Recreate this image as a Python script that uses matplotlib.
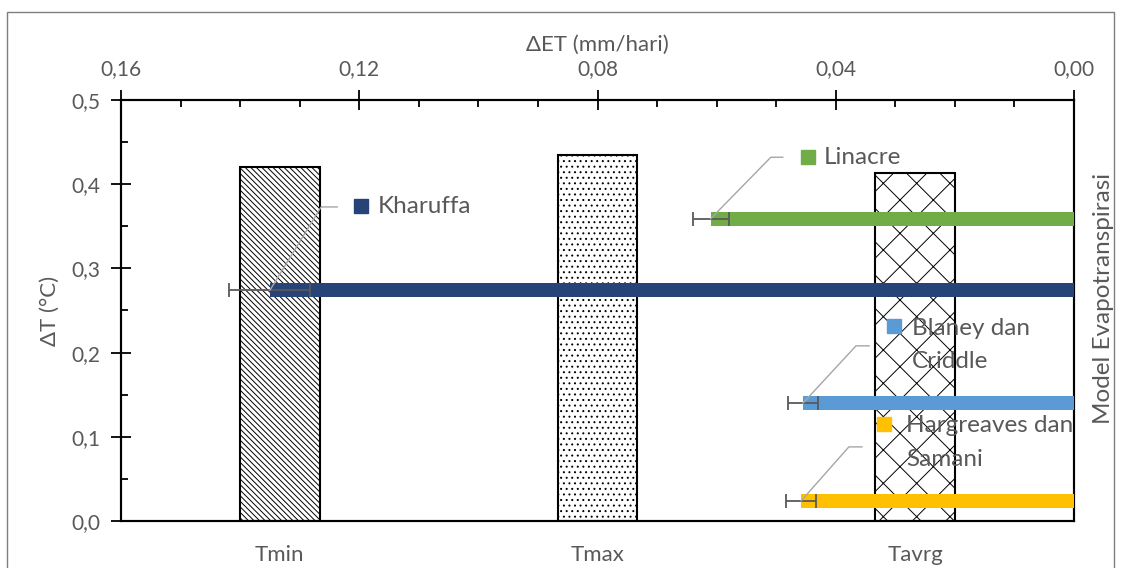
import matplotlib.pyplot as plt
import matplotlib.patches as mpatches
from matplotlib.ticker import MultipleLocator, FuncFormatter

plt.rcParams['font.family'] = ['Lato', 'DejaVu Sans']
plt.rcParams['hatch.linewidth'] = 0.7

# data
categories = ['Tmin', 'Tmax', 'Tavrg']
delta_t = [0.420, 0.435, 0.413]
hatches = ['\\\\\\\\\\\\', '...', 'x']

models = ['Kharuffa', 'Linacre', 'Blaney dan\nCriddle', 'Hargreaves dan\nSamani']
delta_et = [0.135, 0.061, 0.0455, 0.0458]
et_err = [0.0068, 0.003, 0.0025, 0.0025]
model_y = [0.274, 0.359, 0.140, 0.024]
model_colors = ['#264478', '#70AD47', '#5B9BD5', '#FFC000']

# label layout (ΔET, ΔT): leader knee, leader end, marker, text
knee = [(0.1264, 0.373), (0.0509, 0.432), (0.0366, 0.208), (0.0378, 0.088)]
lead_end = [0.1237, 0.0489, 0.0344, 0.0356]
mark_pos = [(0.1197, 0.374), (0.0447, 0.432), (0.0302, 0.231), (0.0319, 0.115)]
text_x = [0.1169, 0.0420, 0.0272, 0.0282]

grey = '#595959'

fig = plt.figure(figsize=(11.21, 5.68), dpi=100)
fig.patches.append(mpatches.Rectangle((7 / 1121, -0.05), 1107 / 1121, 1 - 12 / 568 + 0.05,
                                      transform=fig.transFigure, fill=False,
                                      edgecolor='#7f7f7f', linewidth=1))

ax = fig.add_axes([121 / 1121, 1 - 521 / 568, 953 / 1121, 421 / 568])
for i, (v, h) in enumerate(zip(delta_t, hatches)):
    ax.bar(i, v, width=0.25, color='white', edgecolor='black', linewidth=1.5, hatch=h)
ax.set_xlim(-0.5, 2.5)
ax.set_ylim(0, 0.5)
ax.set_xticks(range(len(categories)))
ax.set_xticklabels(categories)
ax.tick_params(axis='x', length=0, pad=17, labelsize=16, labelcolor=grey)
ax.yaxis.set_major_locator(MultipleLocator(0.1))
ax.yaxis.set_minor_locator(MultipleLocator(0.05))
ax.yaxis.set_major_formatter(FuncFormatter(lambda v, p: f'{v:.1f}'.replace('.', ',')))
ax.tick_params(axis='y', which='major', direction='inout', length=14, width=1.3,
               pad=8, labelsize=15, labelcolor=grey)
ax.tick_params(axis='y', which='minor', direction='in', length=5, width=1.3)
ax.set_ylabel('ΔT (°C)', fontsize=16, color=grey, labelpad=8)
for s in ax.spines.values():
    s.set_linewidth(1.5)

ax2 = ax.twiny()
ax2.set_xlim(0.16, 0)
ax2.barh(model_y, delta_et, height=0.017, color=model_colors, zorder=3,
         xerr=et_err, error_kw=dict(ecolor=grey, elinewidth=1.3, capsize=5, capthick=1.3))
ax2.xaxis.set_major_locator(MultipleLocator(0.04))
ax2.xaxis.set_minor_locator(MultipleLocator(0.01))
ax2.xaxis.set_major_formatter(FuncFormatter(lambda v, p: f'{abs(v):.2f}'.replace('.', ',')))
ax2.tick_params(axis='x', which='major', direction='inout', length=14, width=1.3,
                pad=8, labelsize=15, labelcolor=grey)
ax2.tick_params(axis='x', which='minor', direction='in', length=5, width=1.3)
ax2.set_xlabel('ΔET (mm/hari)', fontsize=16, color=grey, labelpad=6)
for s in ax2.spines.values():
    s.set_linewidth(1.5)

for i, name in enumerate(models):
    ax2.plot([delta_et[i], knee[i][0], lead_end[i]], [model_y[i], knee[i][1], knee[i][1]],
             color='#A6A6A6', linewidth=1, zorder=4)
    ax2.plot(*mark_pos[i], marker='s', markersize=10, color=model_colors[i], zorder=5)
    ax2.text(text_x[i], mark_pos[i][1] if '\n' not in name else mark_pos[i][1] - 0.022,
             name, fontsize=17.5, color=grey, ha='left', va='center',
             linespacing=1.75, zorder=5, clip_on=True)

fig.text(1103 / 1121, 1 - 298 / 568, 'Model Evapotranspirasi', rotation=90,
         fontsize=17.5, color=grey, ha='center', va='center')

plt.savefig('out.png', dpi=100)
